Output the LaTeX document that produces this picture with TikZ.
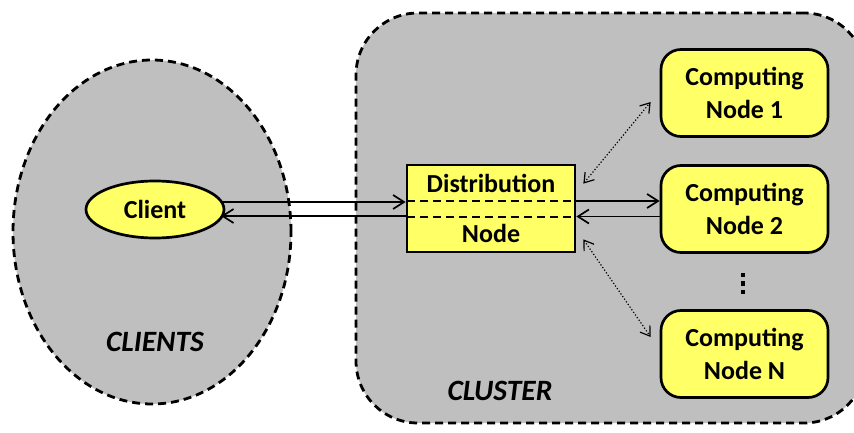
\documentclass[tikz,border=0pt]{standalone}
\usepackage{fontspec}
\setmainfont{Carlito}
\usetikzlibrary{arrows.meta,calc,shapes.geometric}
\definecolor{zonegray}{RGB}{191,191,191}
\definecolor{boxyellow}{RGB}{255,255,102}
\begin{document}
\begin{tikzpicture}[x=1pt,y=-1pt,
  zone/.style={draw=black, fill=zonegray, line width=2.8pt, dash pattern=on 8pt off 5pt, inner sep=0pt},
  boxfont/.style={font=\fontsize{26}{33}\selectfont\bfseries},
  ybox/.style={draw=black, fill=boxyellow, line width=2.7pt, boxfont, align=center, inner sep=0pt},
  cnode/.style={ybox, rectangle, rounded corners=20pt, minimum width=167pt, minimum height=87pt},
  zonelabel/.style={font=\fontsize{29.5}{33}\selectfont\bfseries\itshape},
  splitline/.style={line width=2pt, dash pattern=on 8pt off 5pt},
  link/.style={line width=1.7pt, -{Straight Barb[length=11pt,width=14pt,line width=1.7pt]}},
  dotlink/.style={line width=1.2pt, dotted, {Straight Barb[length=9pt,width=12pt,line width=1.2pt,line cap=butt]}-{Straight Barb[length=9pt,width=12pt,line width=1.2pt,line cap=butt]}}
]
\useasboundingbox (0,0) rectangle (854,433);
\clip (0,0) rectangle (854,433);

% grouping zones
\node[zone, ellipse, minimum width=278pt, minimum height=344pt] (clients) at (152,232) {};
\node[zone, rectangle, rounded corners=62pt, minimum width=510pt, minimum height=410pt] (cluster) at (611,218) {};
\node[zonelabel] (clientslbl) at (155,342) {CLIENTS};
\node[zonelabel] (clusterlbl) at (500,391) {CLUSTER};

% client
\node[ybox, ellipse, minimum width=138pt, minimum height=57pt] (client) at (155,209.5) {Client};

% distribution node, split by two dashed lines
\node[ybox, rectangle, minimum width=168pt, minimum height=87pt] (dist) at (491,208.5) {};
\node[boxfont] (disttop) at (491,183) {Distribution};
\node[boxfont] (distbot) at (491,233) {Node};
\coordinate (dwu) at ($(dist.west)+(1.5,-7.5)$);
\coordinate (deu) at ($(dist.east)+(-1.5,-7.5)$);
\coordinate (dwd) at ($(dist.west)+(1.5,8)$);
\coordinate (ded) at ($(dist.east)+(-1.5,8)$);
\draw[splitline] (dwu) -- (deu);
\draw[splitline] (dwd) -- (ded);

% computing nodes
\node[cnode] (cn1) at (744.5,93) {Computing\\Node 1};
\node[cnode] (cn2) at (744.5,209) {Computing\\Node 2};
\node[cnode] (cnn) at (744.5,354) {Computing\\Node N};
\foreach \yy in {275,283.5,292}
  \fill (741,\yy-2.2) rectangle (745.4,\yy+2.2);

% client <-> distribution node
\coordinate (cup) at ($(client.center)+(66,-7.5)$);
\coordinate (cdn) at ($(client.center)+(66,6.5)$);
\draw[link] (cup) -- (cup -| dist.west);
\draw[link] (cdn -| dist.west) -- (cdn);

% distribution node <-> computing node 2
\draw[link] (deu -| dist.east) -- (deu -| cn2.west);
\draw[link] (ded -| cn2.west) -- (ded -| dist.east);

% dotted links to the other computing nodes
\draw[dotlink] ($(dist.north east)+(7,20)$) -- ($(cn1.west)+(-9,9)$);
\draw[dotlink] ($(dist.south east)+(7,-14)$) -- ($(cnn.west)+(-9,-17)$);
\end{tikzpicture}
\end{document}
